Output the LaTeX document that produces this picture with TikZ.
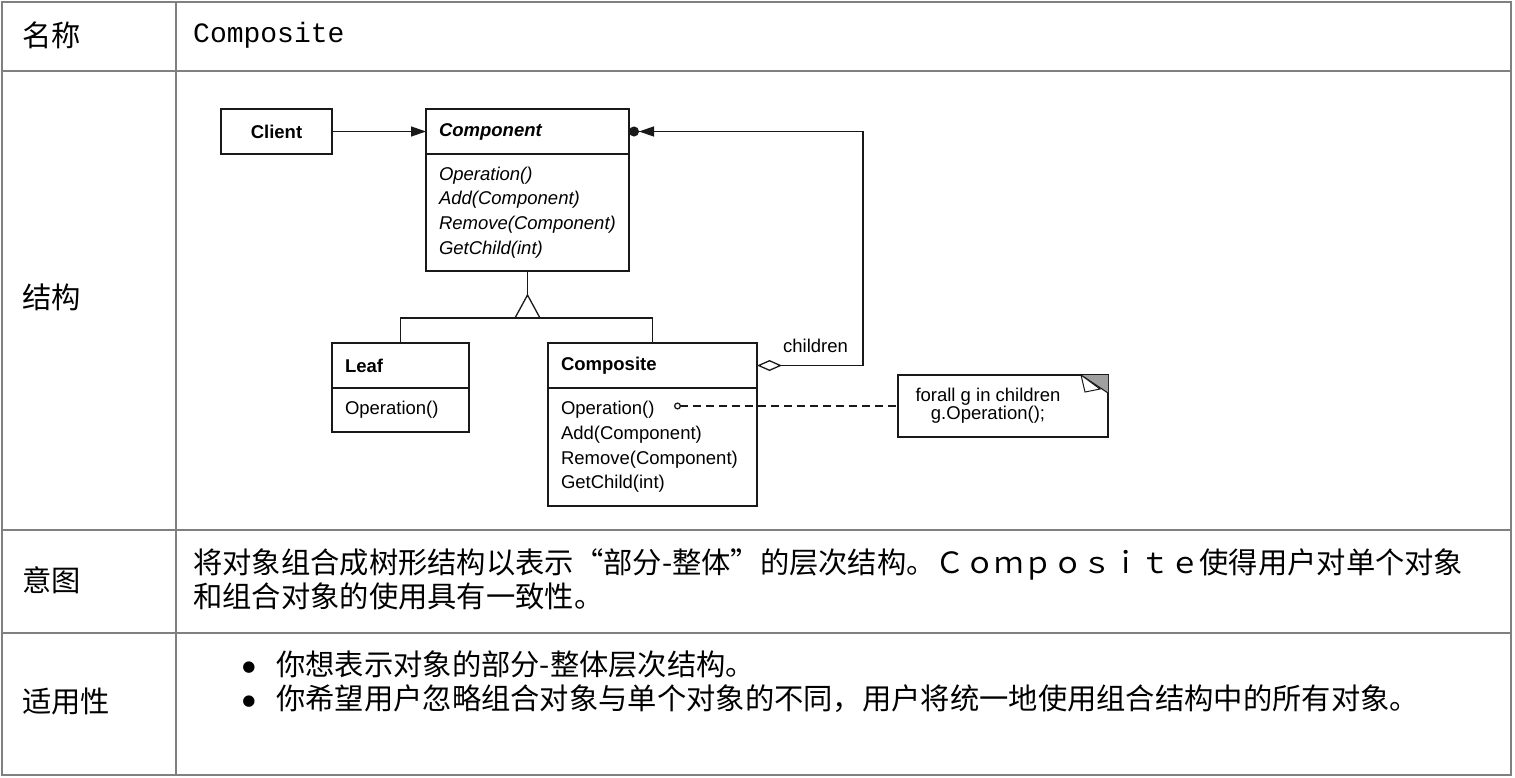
\documentclass[tikz,border=0pt]{standalone}
\usepackage{fontspec}
\usepackage{tikz}
\usetikzlibrary{positioning, arrows.meta}
\newfontfamily\cjk{Noto Sans CJK SC}
\newfontfamily\umlfont{Liberation Sans}
\newfontfamily\namefont{Liberation Mono}
\newfontfamily\markfont{DejaVu Sans}
\definecolor{gridColor}{RGB}{128, 128, 128}
\definecolor{lineColor}{RGB}{25, 25, 25}
\definecolor{foldFill}{RGB}{160, 160, 160}
\tikzset{
    cell_text/.style={
        anchor=west,
        inner sep=0pt,
        align=left,
        font=\cjk\fontsize{29.3}{34}\selectfont
    },
    list_mark/.style={
        inner sep=0pt,
        align=center,
        font=\markfont\fontsize{15}{34}\selectfont
    },
    grid_line/.style={
        draw=gridColor,
        line width=1.5pt
    },
    class_head/.style={
        draw=lineColor,
        line width=1.3pt,
        outer sep=0pt,
        minimum height=45pt,
        inner xsep=13pt,
        inner ysep=0pt,
        align=left,
        font=\umlfont\bfseries\fontsize{18.5}{24.7}\selectfont
    },
    class_body/.style={
        draw=lineColor,
        line width=1.3pt,
        outer sep=0pt,
        inner xsep=13pt,
        inner ysep=0pt,
        align=left,
        font=\umlfont\fontsize{18.5}{24.7}\selectfont
    },
    note_box/.style={
        draw=lineColor,
        line width=1.3pt,
        outer sep=0pt,
        minimum width=210pt,
        minimum height=62pt
    },
    uml_text/.style={
        inner sep=0pt,
        align=center,
        font=\umlfont\fontsize{18.5}{18}\selectfont
    },
    uml_edge/.style={
        draw=lineColor,
        line width=1.3pt
    },
    assoc_edge/.style={
        uml_edge,
        -{Triangle[length=15pt, width=10pt]}
    },
    agg_edge/.style={
        uml_edge,
        {Diamond[open, length=25pt, width=11pt]}-{Triangle[length=15pt, width=10pt] Circle[length=10pt]}
    },
    note_edge/.style={
        uml_edge,
        dash pattern=on 8pt off 5pt,
        {Circle[open, length=7pt]}-
    }
}

\begin{document}
\begin{tikzpicture}[x=1pt, y=-1pt]
    \useasboundingbox (0,0) rectangle (1515,777);

    % table
    \draw[grid_line] (2,2) rectangle (1511,775);
    \draw[grid_line] (176,2) -- (176,775);
    \draw[grid_line] (2,71) -- (1511,71);
    \draw[grid_line, line width=2.5pt] (2,530) -- (1511,530);
    \draw[grid_line] (2,633) -- (1511,633);

    \node[cell_text] (nameKey) at (22,35) {名称};
    \node[cell_text, font=\namefont\fontsize{28}{34}\selectfont] (nameVal) at (193,35) {Composite};
    \node[cell_text] (structKey) at (22,297) {结构};
    \node[cell_text] (intentKey) at (22,580) {意图};
    \node[cell_text] (intentVal) at (193,579)
        {将对象组合成树形结构以表示“部分-整体”的层次结构。Ｃｏｍｐｏｓｉｔｅ使得用户对单个对象\\和组合对象的使用具有一致性。};
    \node[cell_text] (useKey) at (22,701) {适用性};
    \node[list_mark] (marks) at (249,685) {●\\●};
    \node[cell_text] (useVal) at (276,682)
        {你想表示对象的部分-整体层次结构。\\
         你希望用户忽略组合对象与单个对象的不同，用户将统一地使用组合结构中的所有对象。};

    % classes
    \node[class_head, anchor=north west, minimum width=111pt] (client) at (221,109) {Client};
    \node[class_head, anchor=north west, text width=177pt] (cmphd) at (426,109) {\textit{Component}};
    \node[class_body, below=0pt of cmphd, text width=177pt, minimum height=117pt, font=\umlfont\itshape\fontsize{18.5}{24.7}\selectfont] (cmpbd)
        {Operation()\\Add(Component)\\Remove(Component)\\GetChild(int)};
    \node[class_head, anchor=north west, text width=111pt] (leafhd) at (332,343) {Leaf};
    \node[class_body, below=0pt of leafhd, text width=111pt, minimum height=44pt] (leafbd) {Operation()};
    \node[class_head, anchor=north west, text width=183pt] (cpshd) at (548,343) {Composite};
    \node[class_body, below=0pt of cpshd, text width=183pt, minimum height=118pt] (cpsbd)
        {Operation()\\Add(Component)\\Remove(Component)\\GetChild(int)};

    \node[note_box] (note) at (1003,406) {};
    \node[uml_text] (notetxt) at ([xshift=-15pt]note.center) {forall g in children\\g.Operation();};
    \fill[foldFill] (note.north east) -- ++(-27,0) -- ++(27,18) -- cycle;
    \draw[uml_edge, line width=1pt] ([xshift=-27pt]note.north east) -- ++(27,18);
    \filldraw[uml_edge, line width=1pt, fill=white] ([xshift=-27pt]note.north east) -- ++(4,17) -- ++(15,-3) -- cycle;

    \node[uml_text, anchor=west] (role) at (783,346) {children};

    \coordinate (apex) at (cmpbd.south |- 0,295);
    \coordinate (gen) at (cmpbd.south |- 0,318);
    \coordinate (rail) at (863,250);
    \coordinate (opdot) at (674,406);

    % connectors
    \draw[assoc_edge] (client.east) -- (cmphd.west);
    \draw[uml_edge] (cmpbd.south) -- (apex);
    \draw[uml_edge] (apex) -- ++(-12.5,23) -- ++(25,0) -- cycle;
    \draw[uml_edge] (leafhd.north) -- (leafhd.north |- gen) -- (cpshd.north |- gen) -- (cpshd.north);
    \draw[agg_edge] (cpshd.east) -| (rail) |- (cmphd.east);
    \draw[note_edge] (opdot) -- (note.west);
\end{tikzpicture}
\end{document}
